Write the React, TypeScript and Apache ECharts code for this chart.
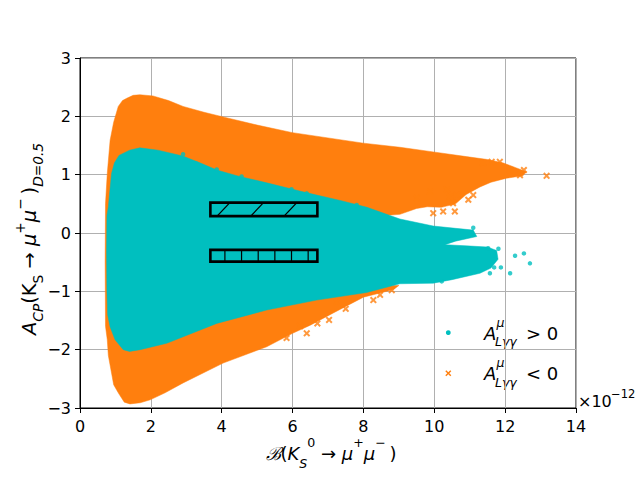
import React, { useEffect, useRef } from "react";
import * as echarts from "echarts";

// ---------- data ----------
const X_TICKS = [0, 2, 4, 6, 8, 10, 12, 14];
const Y_TICKS = [-3, -2, -1, 0, 1, 2, 3];

// outline of the dense orange cloud (A_Lγγ < 0)
const ORANGE_OUTLINE: number[][] = [
  [0.72, -1.6], [0.71, -0.5], [0.72, 0.5], [0.77, 1.02], [0.85, 1.59], [0.95, 1.9],
  [1.08, 2.17], [1.2, 2.27], [1.32, 2.31], [1.5, 2.36], [1.69, 2.37], [2.06, 2.35],
  [2.5, 2.27], [2.91, 2.17], [3.5, 2.07], [4.04, 1.99], [5.0, 1.85], [6.0, 1.72],
  [7.0, 1.63], [8.0, 1.54], [9.03, 1.47], [9.97, 1.39], [10.9, 1.31], [11.5, 1.26],
  [11.95, 1.2], [12.3, 1.12], [12.6, 1.05], [12.5, 0.98], [12.04, 0.94], [11.6, 0.87],
  [11.29, 0.79], [10.9, 0.66], [10.6, 0.5], [10.2, 0.44], [9.8, 0.45], [9.5, 0.42],
  [9.03, 0.32], [8.6, 0.3], [8.6, -0.9], [9.0, -0.9], [8.85, -0.97], [8.0, -1.1],
  [7.15, -1.37], [6.5, -1.58], [6.0, -1.72], [5.27, -1.95], [4.04, -2.23], [2.91, -2.57],
  [2.4, -2.74], [1.98, -2.86], [1.7, -2.91], [1.41, -2.93], [1.25, -2.9], [1.08, -2.74],
  [0.95, -2.6], [0.89, -2.4], [0.8, -2.1], [0.77, -1.83],
];

// outline of the dense cyan cloud (A_Lγγ > 0)
const CYAN_OUTLINE: number[][] = [
  [0.76, -1.0], [0.75, -0.3], [0.76, 0.3], [0.8, 0.45], [0.89, 1.02], [0.97, 1.2],
  [1.1, 1.33], [1.4, 1.42], [1.69, 1.46], [2.2, 1.42], [2.9, 1.32], [3.4, 1.2],
  [3.86, 1.08], [4.5, 0.97], [5.27, 0.86], [6.2, 0.72], [6.68, 0.65], [7.4, 0.55],
  [8.1, 0.44], [9.03, 0.24], [9.97, 0.12], [10.6, 0.08], [11.1, 0.05], [11.2, -0.06],
  [10.6, -0.14], [10.3, -0.2], [10.9, -0.22], [11.5, -0.24], [11.76, -0.3], [11.8, -0.45],
  [11.6, -0.6], [11.29, -0.69], [10.5, -0.8], [9.97, -0.86], [9.03, -0.87], [8.09, -1.02],
  [6.68, -1.15], [5.27, -1.32], [3.86, -1.55], [2.45, -1.89], [1.7, -2.0], [1.4, -2.03],
  [1.22, -2.0], [0.99, -1.83], [0.85, -1.61], [0.78, -1.4],
];

// isolated points near the edges of the clouds
const ORANGE_POINTS: number[][] = [
  [13.17, 0.98], [12.53, 1.08], [12.42, 0.99], [12.14, 1.08], [11.85, 1.22], [11.62, 1.22],
  [11.38, 1.2], [11.1, 0.65], [10.96, 0.57], [10.63, 0.65], [10.53, 0.51], [10.58, 0.37],
  [10.44, 0.62], [10.25, 0.37], [9.97, 0.34], [9.5, 0.6], [9.88, 0.71], [10.35, 0.74],
  [8.28, -1.15], [8.47, -1.06], [8.8, -0.98], [7.03, -1.49], [6.4, -1.72], [5.83, -1.8],
  [7.24, -1.18], [6.21, -1.6], [6.7, -1.55], [7.5, -1.3],
];
const CYAN_POINTS: number[][] = [
  [12.7, -0.52], [12.53, -0.35], [12.28, -0.39], [12.14, -0.69], [11.88, -0.59], [11.69, -0.59],
  [11.57, -0.69], [11.81, -0.27], [11.52, -0.26], [11.1, 0.09], [10.21, -0.83], [11.66, -0.38],
  [2.91, 1.35], [3.29, 1.19], [3.86, 1.09], [4.56, 0.97], [5.97, 0.75], [6.4, 0.68], [7.81, 0.48],
];

// two hatched boxes: [xMin, xMax, yMin, yMax]
const BOXES: number[][] = [
  [3.68, 6.7, 0.29, 0.52],
  [3.68, 6.7, -0.49, -0.29],
];
const SLASH_HATCH_X = [3.87, 4.82, 5.76];
const SLASH_HATCH_RISE = 0.36;
const BAR_HATCH_X = [4.09, 4.56, 5.03, 5.5, 5.97, 6.44];

const ORANGE = "#ff7f0e";
const CYAN = "#00bfbf";
const FONT = "DejaVu Sans";
const X_SYMBOL = "path://M0,2L2,0L5,3L8,0L10,2L7,5L10,8L8,10L5,7L2,10L0,8L3,5Z";

const polygonSeries = (outline: number[][], color: string) => ({
  type: "custom",
  silent: true,
  data: outline,
  renderItem: (params: any, api: any) => {
    if (params.dataIndex !== 0) return null;
    return {
      type: "polygon",
      shape: { points: outline.map((p) => api.coord(p)) },
      style: { fill: color, stroke: color, lineWidth: 0.5 },
    };
  },
});

const fmtMinus = (v: number) => (v < 0 ? "\u2212" + Math.abs(v) : String(v));

const makeRich = (fs: number, lh: number) => {
  const sfs = Math.round(fs * 0.7 * 10) / 10;
  const main = { fontFamily: FONT, fontSize: fs, lineHeight: lh, color: "#000" };
  const sub = { fontFamily: FONT, fontSize: sfs, lineHeight: sfs + 2, verticalAlign: "bottom", fontStyle: "italic", color: "#000" };
  const sup = { fontFamily: FONT, fontSize: sfs, lineHeight: sfs + 2, verticalAlign: "top", color: "#000" };
  return {
    n: main,
    it: { ...main, fontStyle: "italic" },
    cal: { ...main, fontFamily: "DejaVu Serif", fontStyle: "italic" },
    sub,
    subUp: { ...sub, fontStyle: "normal" },
    sup,
  };
};

export default function App() {
  const ref = useRef<HTMLDivElement>(null);
  useEffect(() => {
    if (!ref.current) return;
    const chart = echarts.init(ref.current, null, { renderer: "svg" });

    const legendText = (y: number, op: string) => [
      { type: "text", x: 484, y: y, style: { text: "A", font: `italic 18px ${FONT}`, fill: "#000", verticalAlign: "middle" } },
      { type: "text", x: 496.5, y: y - 11, style: { text: "μ", font: `italic 12.5px ${FONT}`, fill: "#000", verticalAlign: "middle" } },
      { type: "text", x: 495, y: y + 8.5, style: { text: "Lγγ", font: `italic 12.5px ${FONT}`, fill: "#000", verticalAlign: "middle" } },
      { type: "text", x: 526, y: y, style: { text: op + " 0", font: `18px ${FONT}`, fill: "#000", verticalAlign: "middle" } },
    ];

    chart.setOption({
      animation: false,
      backgroundColor: "#fff",
      grid: { left: 80, right: 64, top: 58, bottom: 72, show: true, borderColor: "#000", borderWidth: 1, backgroundColor: "transparent" },
      xAxis: {
        type: "value",
        min: X_TICKS[0],
        max: X_TICKS[X_TICKS.length - 1],
        interval: X_TICKS[1] - X_TICKS[0],
        axisLine: { show: true, onZero: false, lineStyle: { color: "#000", width: 1 } },
        axisTick: { show: true, length: 5, lineStyle: { color: "#000", width: 1 } },
        axisLabel: { color: "#000", fontFamily: FONT, fontSize: 16, margin: 10, formatter: fmtMinus },
        splitLine: { show: true, lineStyle: { color: "#b0b0b0", width: 1 } },
      },
      yAxis: {
        type: "value",
        min: Y_TICKS[0],
        max: Y_TICKS[Y_TICKS.length - 1],
        interval: Y_TICKS[1] - Y_TICKS[0],
        axisLine: { show: true, onZero: false, lineStyle: { color: "#000", width: 1 } },
        axisTick: { show: true, length: 5, lineStyle: { color: "#000", width: 1 } },
        axisLabel: { color: "#000", fontFamily: FONT, fontSize: 16, margin: 9, formatter: fmtMinus },
        splitLine: { show: true, lineStyle: { color: "#b0b0b0", width: 1 } },
      },
      graphic: [
        {
          type: "text",
          x: 29,
          y: 239,
          rotation: Math.PI / 2,
          style: {
            text: "{it|A}{sub|CP}{n|(K}{subUp|S}{n| → }{it|μ}{sup|+}{it|μ}{sup|\u2212}{n|\u2009)}{sub|D=0.5}",
            rich: makeRich(19.5, 32),
            align: "center",
            verticalAlign: "middle",
          },
        },
        {
          type: "text",
          x: 331,
          y: 453,
          style: {
            text: "{cal|ℬ}{n|(}{it|K}{sub|S}{sup|0}{n| → }{it|μ}{sup|+}{it|μ}{sup|\u2212}{n|\u2009)}",
            rich: makeRich(18, 34),
            align: "center",
            verticalAlign: "middle",
          },
        },
        { type: "text", x: 578, y: 401, style: { text: "×10", font: `16px ${FONT}`, fill: "#000", verticalAlign: "middle" } },
        { type: "text", x: 611, y: 394, style: { text: "\u221212", font: `11.5px ${FONT}`, fill: "#000", verticalAlign: "middle" } },
        { type: "circle", shape: { cx: 448.3, cy: 332.7, r: 2.4 }, style: { fill: CYAN } },
        {
          type: "polygon",
          shape: {
            points: [[-3, -2], [-2, -3], [0, -1], [2, -3], [3, -2], [1, 0], [3, 2], [2, 3], [0, 1], [-2, 3], [-3, 2], [-1, 0]].map(
              ([a, b]) => [448.3 + a, 373.3 + b]
            ),
          },
          style: { fill: ORANGE },
        },
        ...legendText(333, ">"),
        ...legendText(373.5, "<"),
      ],
      series: [
        polygonSeries(ORANGE_OUTLINE, ORANGE),
        {
          type: "scatter",
          data: ORANGE_POINTS,
          symbol: X_SYMBOL,
          symbolSize: 7,
          itemStyle: { color: ORANGE },
          silent: true,
        },
        polygonSeries(CYAN_OUTLINE, CYAN),
        {
          type: "scatter",
          data: CYAN_POINTS,
          symbol: "circle",
          symbolSize: 4.5,
          itemStyle: { color: CYAN },
          silent: true,
        },
        {
          type: "custom",
          silent: true,
          data: BOXES,
          encode: { x: [0, 1], y: [2, 3] },
          renderItem: (params: any, api: any) => {
            const b = BOXES[params.dataIndex];
            const p0 = api.coord([b[0], b[3]]);
            const p1 = api.coord([b[1], b[2]]);
            const children: any[] = [
              {
                type: "rect",
                shape: { x: p0[0], y: p0[1], width: p1[0] - p0[0], height: p1[1] - p0[1] },
                style: { fill: "none", stroke: "#000", lineWidth: 2.6 },
                z2: 10,
              },
            ];
            if (params.dataIndex === 0) {
              SLASH_HATCH_X.forEach((x) => {
                const a = api.coord([x, b[2]]);
                const c = api.coord([x + SLASH_HATCH_RISE, b[3]]);
                children.push({ type: "line", shape: { x1: a[0], y1: a[1], x2: c[0], y2: c[1] }, style: { stroke: "#000", lineWidth: 1.3 } });
              });
            } else {
              BAR_HATCH_X.forEach((x) => {
                const a = api.coord([x, b[2]]);
                const c = api.coord([x, b[3]]);
                children.push({ type: "line", shape: { x1: a[0], y1: a[1], x2: c[0], y2: c[1] }, style: { stroke: "#000", lineWidth: 1.2 } });
              });
            }
            return { type: "group", children };
          },
        },
      ],
    });
    return () => chart.dispose();
  }, []);
  return <div ref={ref} style={{ position: "fixed", left: 0, top: 0, width: 640, height: 480 }} />;
}
